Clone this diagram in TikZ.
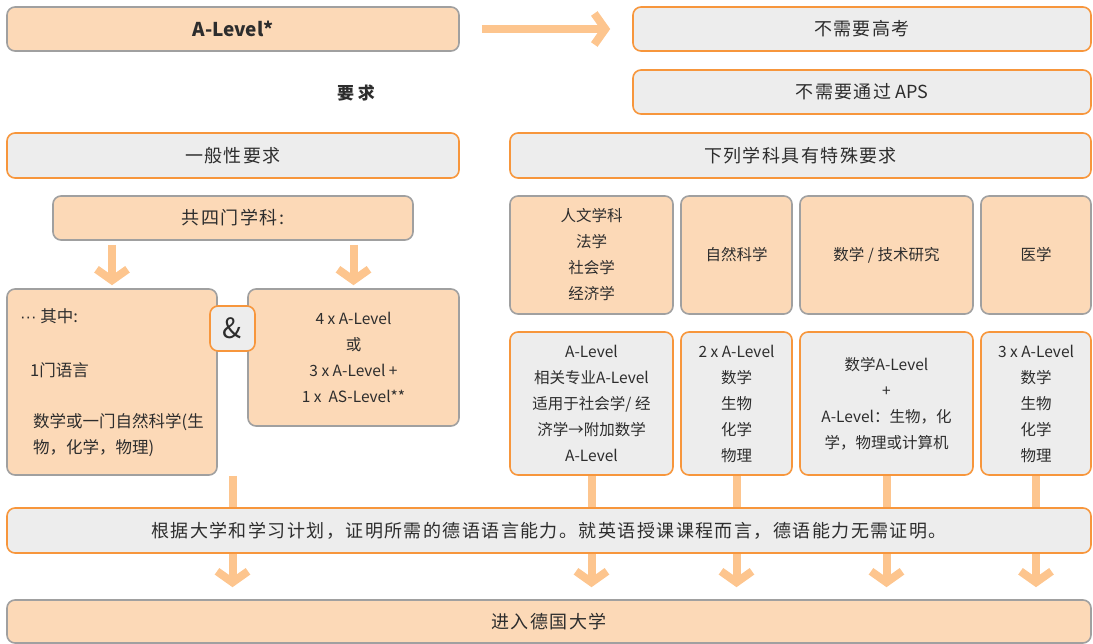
\documentclass[tikz,border=0pt]{standalone}
\usepackage{fontspec}
\setmainfont{Noto Sans CJK SC}
\newfontfamily\spaced[LetterSpace=8]{Noto Sans CJK SC}
\newfontfamily\latinfont{Liberation Sans}
\usetikzlibrary{arrows.meta,backgrounds}
\definecolor{peach}{RGB}{252,217,183}
\definecolor{boxgray}{RGB}{160,160,160}
\definecolor{lightfill}{RGB}{237,237,237}
\definecolor{orangeb}{RGB}{247,150,60}
\definecolor{arrowc}{RGB}{253,197,142}
\definecolor{txt}{RGB}{45,45,45}
\begin{document}
\begin{tikzpicture}[x=1pt,y=-1pt,
  base/.style={rounded corners=8pt, line width=1.6pt, inner sep=0pt, text=txt, align=center},
  peachbox/.style={base, fill=peach, draw=boxgray},
  graybox/.style={base, fill=lightfill, draw=orangeb},
  big/.style={font=\spaced\fontsize{18}{22}\selectfont},
  small/.style={font=\fontsize{15.5}{26}\selectfont},
  lefttext/.style={text=txt, inner sep=0pt, anchor=west, align=left, font=\fontsize{16.5}{26}\selectfont},
  conn/.style={draw=arrowc, line width=8pt},
  fatarrow/.style={conn, -{Straight Barb[length=11pt,width=31pt,line width=8pt]}}
]
\useasboundingbox (0,0) rectangle (1093,644);

% top row
\node[peachbox,font=\fontsize{19}{22}\selectfont,minimum width=452pt,minimum height=44pt] (alevel) at (233,29) {\textbf{A-Level*}};
\node[graybox,big,minimum width=458pt,minimum height=44pt] (nogaokao) at (862,29) {不需要高考};
\node[graybox,big,minimum width=458pt,minimum height=44pt] (noaps) at (862,92) {不需要通过{\fontsize{18}{22}\selectfont\normalfont\ APS}};
\node[text=txt, inner sep=0pt, font=\fontsize{17}{20}\selectfont\bfseries] (req) at (356,93) {要\hspace{4pt}求};

% headers
\node[graybox,big,minimum width=452pt,minimum height=45pt] (general) at (233,155.5) {一般性要求};
\node[graybox,big,minimum width=581pt,minimum height=45pt] (special) at (800.5,155.5) {下列学科具有特殊要求};

% left branch
\node[peachbox,big,minimum width=360pt,minimum height=44pt] (four) at (233,218) {共四门学科:};
\node[peachbox,minimum width=210pt,minimum height=186pt] (lbox) at (112,382) {};
\node[lefttext] (l1) at (20,316) {{\latinfont ···}\ 其中:};
\node[lefttext] (l2) at (30,370) {1门语言};
\node[lefttext] (l3) at (33,435) {数学或一门自然科学(生\\物，化学，物理)};
\node[peachbox,small,minimum width=211pt,minimum height=137pt] (rbox) at (353.5,357.5) {4 x A-Level\\或\\3 x A-Level +\\1 x\ \ AS-Level**};
\node[graybox,minimum width=45pt,minimum height=45pt,font=\fontsize{28}{28}\selectfont] (amp) at (232.5,328.5) {\&};

% right columns
\node[peachbox,small,minimum width=163pt,minimum height=118pt] (c1t) at (591.5,255) {人文学科\\法学\\社会学\\经济学};
\node[peachbox,small,minimum width=111pt,minimum height=118pt] (c2t) at (736.5,255) {自然科学};
\node[peachbox,small,minimum width=173pt,minimum height=118pt] (c3t) at (886.5,255) {数学 / 技术研究};
\node[peachbox,small,minimum width=110pt,minimum height=118pt] (c4t) at (1036,255) {医学};

\node[graybox,small,minimum width=163pt,minimum height=143pt] (c1b) at (591.5,403.5) {A-Level\\相关专业A-Level\\适用于社会学/ 经\\济学→附加数学\\A-Level};
\node[graybox,small,minimum width=111pt,minimum height=143pt] (c2b) at (736.5,403.5) {2 x A-Level\\数学\\生物\\化学\\物理};
\node[graybox,small,minimum width=173pt,minimum height=143pt] (c3b) at (886.5,403.5) {数学A-Level\\+\\A-Level：生物，化\\学，物理或计算机};
\node[graybox,small,minimum width=110pt,minimum height=143pt] (c4b) at (1036,403.5) {3 x A-Level\\数学\\生物\\化学\\物理};

% bottom
\node[graybox,big,minimum width=1084pt,minimum height=45pt] (lang) at (549,530.5) {根据大学和学习计划，证明所需的德语语言能力。就英语授课课程而言，德语能力无需证明。};
\node[peachbox,big,minimum width=1084pt,minimum height=43pt] (uni) at (549,621.5) {进入德国大学};

% connectors
\draw[fatarrow, shorten <=22pt, shorten >=22pt] (alevel.east) -- (nogaokao.west);
\draw[fatarrow, shorten <=4pt, shorten >=3pt] (lbox.north |- four.south) -- (lbox.north);
\draw[fatarrow, shorten <=4pt, shorten >=3pt] (rbox.north |- four.south) -- (rbox.north);

\begin{scope}[on background layer]
\draw[conn] (amp.south |- lbox.south) -- (amp.south |- lang.north);
\draw[conn] (c1b.south) -- (c1b.south |- lang.north);
\draw[conn] (c2b.south) -- (c2b.south |- lang.north);
\draw[conn] (c3b.south) -- (c3b.south |- lang.north);
\draw[conn] (c4b.south) -- (c4b.south |- lang.north);
\end{scope}

\draw[fatarrow, shorten >=12pt] (amp.south |- lang.south) -- (amp.south |- uni.north);
\draw[fatarrow, shorten >=12pt] (c1b.south |- lang.south) -- (c1b.south |- uni.north);
\draw[fatarrow, shorten >=12pt] (c2b.south |- lang.south) -- (c2b.south |- uni.north);
\draw[fatarrow, shorten >=12pt] (c3b.south |- lang.south) -- (c3b.south |- uni.north);
\draw[fatarrow, shorten >=12pt] (c4b.south |- lang.south) -- (c4b.south |- uni.north);
\end{tikzpicture}
\end{document}
